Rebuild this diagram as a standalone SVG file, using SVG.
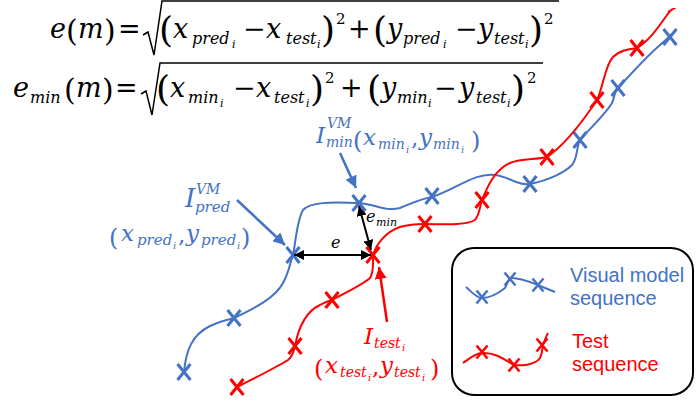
<svg xmlns="http://www.w3.org/2000/svg" width="696" height="403" viewBox="0 0 696 403">
<style>
.f{font-family:"DejaVu Serif",serif;font-style:italic;font-size:27px;fill:#000}
.u{font-style:normal}
.sb{font-size:16px}
.ss{font-size:11px}
.sp{font-size:15px;font-style:normal}
.pa{font-size:36px;font-style:normal}
.pm{font-size:30px;font-style:normal}
.lf{font-family:"DejaVu Serif",serif;font-style:italic;font-size:23px}
.lb{font-size:14px}
.lb15{font-size:15px}
.lt{font-size:10px}
.lp{font-size:24px;font-style:normal}
.blue{fill:#4472C4}
.red{fill:#FF0000}
.leg{font-family:"Liberation Sans",Arial,sans-serif;font-size:20px}
.rad{fill:none;stroke:#000;stroke-width:1.5;stroke-linejoin:miter}
.cb{fill:none;stroke:#4472C4;stroke-width:2}
.cr{fill:none;stroke:#FF0000;stroke-width:2}
.xb{stroke:#4472C4;stroke-width:3;fill:none}
.xr{stroke:#FF0000;stroke-width:3;fill:none}
.xbs{stroke:#4472C4;stroke-width:2.5;fill:none}
.xrs{stroke:#FF0000;stroke-width:2.5;fill:none}
</style>
<defs>
<path id="xm" d="M-6.5,-8L6.5,8M6.5,-8L-6.5,8"/>
<path id="xs" d="M-5.5,-6.5L5.5,6.5M5.5,-6.5L-5.5,6.5"/>
<marker id="ak" viewBox="0 0 10 10" refX="10" refY="5" markerWidth="10" markerHeight="10" markerUnits="userSpaceOnUse" orient="auto-start-reverse"><path d="M0,0L10,5L0,10z" fill="#000"/></marker>
<marker id="abl" viewBox="0 0 10 10" refX="10" refY="5" markerWidth="12" markerHeight="12" markerUnits="userSpaceOnUse" orient="auto"><path d="M0,0L10,5L0,10z" fill="#4472C4"/></marker>
<marker id="ard" viewBox="0 0 10 10" refX="10" refY="5" markerWidth="12" markerHeight="12" markerUnits="userSpaceOnUse" orient="auto"><path d="M0,0L10,5L0,10z" fill="#FF0000"/></marker>
</defs>

<g id="formula-e">
<polyline class="rad" points="143,35 148,32 154,55 162,1 559,1"/>
<text class="f"><tspan x="50" y="38">e</tspan><tspan class="pm" x="66" y="41">(</tspan><tspan x="78" y="38">m</tspan><tspan class="pm" x="104" y="41">)</tspan><tspan class="u" x="118" y="38">=</tspan><tspan class="pa" x="159" y="42">(</tspan><tspan x="173" y="38">x</tspan><tspan class="sb" x="192" y="44">pred</tspan><tspan class="ss" x="232" y="48">i</tspan><tspan class="u" x="243" y="38">−</tspan><tspan x="266" y="38">x</tspan><tspan class="sb" x="286" y="44">test</tspan><tspan class="ss" x="317" y="48">i</tspan><tspan class="pa" x="321" y="42">)</tspan><tspan class="sp" x="336" y="24">2</tspan><tspan class="u" x="348" y="38">+</tspan><tspan class="pa" x="373" y="42">(</tspan><tspan x="387" y="38">y</tspan><tspan class="sb" x="403" y="44">pred</tspan><tspan class="ss" x="443" y="48">i</tspan><tspan class="u" x="455" y="38">−</tspan><tspan x="478" y="38">y</tspan><tspan class="sb" x="494" y="44">test</tspan><tspan class="ss" x="525" y="48">i</tspan><tspan class="pa" x="529" y="42">)</tspan><tspan class="sp" x="544" y="24">2</tspan></text>
</g>

<g id="formula-emin">
<polyline class="rad" points="141,94 146,91 152,115 160,63 543,63"/>
<text class="f"><tspan x="13" y="97">e</tspan><tspan class="sb" x="30" y="103">min</tspan><tspan class="pm" x="64" y="100">(</tspan><tspan x="76" y="97">m</tspan><tspan class="pm" x="102" y="100">)</tspan><tspan class="u" x="115" y="97">=</tspan><tspan class="pa" x="156" y="101">(</tspan><tspan x="170" y="97">x</tspan><tspan class="sb" x="188" y="103">min</tspan><tspan class="ss" x="220" y="107">i</tspan><tspan class="u" x="233" y="97">−</tspan><tspan x="256" y="97">x</tspan><tspan class="sb" x="274" y="103">test</tspan><tspan class="ss" x="306" y="107">i</tspan><tspan class="pa" x="310" y="101">)</tspan><tspan class="sp" x="325" y="83">2</tspan><tspan class="u" x="340" y="97">+</tspan><tspan class="pa" x="367" y="101">(</tspan><tspan x="381" y="97">y</tspan><tspan class="sb" x="397" y="103">min</tspan><tspan class="ss" x="428" y="107">i</tspan><tspan class="u" x="434" y="97">−</tspan><tspan x="459" y="97">y</tspan><tspan class="sb" x="476" y="103">test</tspan><tspan class="ss" x="507" y="107">i</tspan><tspan class="pa" x="511" y="101">)</tspan><tspan class="sp" x="527" y="83">2</tspan></text>
</g>

<g id="blue-sequence">
<path class="cb" d="M184,372 C186,350 192,335 210,326 C222,320 228,320 234,318 C255,308 275,298 283,283 C290,270 290,262 293,255 C296,240 297,220 303,210 C310,202 330,202 358,203 C375,204 385,212 400,208 C410,204 420,199 432,197 C455,190 475,172 495,175 C510,177 518,186 530,184 C550,180 565,172 572,165 C578,158 576,148 580,140 C590,128 605,115 612,103 C615,96 614,92 618,88 C630,75 645,58 660,45 C666,40 668,38 672,34"/>
<use href="#xm" class="xb" x="184" y="372"/>
<use href="#xm" class="xb" x="234" y="318"/>
<use href="#xm" class="xb" x="293" y="255"/>
<use href="#xm" class="xb" x="359" y="203"/>
<use href="#xm" class="xb" x="432" y="196"/>
<use href="#xm" class="xb" x="530" y="184"/>
<use href="#xm" class="xb" x="580" y="140"/>
<use href="#xm" class="xb" x="618" y="88"/>
<use href="#xm" class="xb" x="670" y="37"/>
</g>

<g id="red-sequence">
<path class="cr" d="M237,387 C255,378 275,368 288,360 C293,356 294,350 295,346 C298,330 305,312 320,305 C325,302 328,301 332,300 C345,293 362,285 370,278 C374,272 373,262 373,255 C376,245 385,232 400,227 C410,224 418,224 425,224 C440,224 465,226 475,220 C480,214 480,205 482,200 C488,185 495,170 510,163 C522,158 535,160 547,157 C565,145 585,118 597,100 C603,88 605,65 613,57 C620,50 630,49 637,48 C650,40 660,25 667,15 C670,11 672,9 673,9 L668,12"/>
<use href="#xm" class="xr" x="237" y="387"/>
<use href="#xm" class="xr" x="295" y="346"/>
<use href="#xm" class="xr" x="332" y="300"/>
<use href="#xm" class="xr" x="373" y="255"/>
<use href="#xm" class="xr" x="425" y="224"/>
<use href="#xm" class="xr" x="482" y="200"/>
<use href="#xm" class="xr" x="547" y="157"/>
<use href="#xm" class="xr" x="597" y="100"/>
<use href="#xm" class="xr" x="637" y="48"/>
</g>

<g id="label-pred">
<text class="lf blue"><tspan x="185" y="207" style="font-size:26px">I</tspan><tspan class="lb" x="196" y="194">VM</tspan><tspan class="lb15" x="195" y="212">pred</tspan></text>
<text class="lf blue"><tspan class="lp" x="109" y="246">(</tspan><tspan x="121" y="241">x</tspan><tspan class="lb15" x="137" y="245">pred</tspan><tspan class="lt" x="173" y="249">i</tspan><tspan class="u" x="178" y="243">,</tspan><tspan x="186" y="241">y</tspan><tspan class="lb15" x="201" y="245">pred</tspan><tspan class="lt" x="237" y="249">i</tspan><tspan class="lp" x="241" y="246">)</tspan></text>
</g>

<g id="label-min">
<text class="lf blue"><tspan x="316" y="143">I</tspan><tspan class="lb" x="327" y="128">VM</tspan><tspan class="lb" x="326" y="147">min</tspan><tspan class="lp" x="353" y="149">(</tspan><tspan x="363" y="145">x</tspan><tspan class="lb" x="378" y="149">min</tspan><tspan class="lt" x="406" y="153">i</tspan><tspan class="u" x="411" y="146">,</tspan><tspan x="419" y="145">y</tspan><tspan class="lb" x="433" y="149">min</tspan><tspan class="lt" x="461" y="153">i</tspan><tspan class="lp" x="471" y="149">)</tspan></text>
</g>

<g id="label-test">
<text class="lf red"><tspan x="364" y="344">I</tspan><tspan class="lb" x="374" y="348">test</tspan><tspan class="lt" x="402" y="351">i</tspan></text>
<text class="lf red"><tspan class="lp" x="314" y="377">(</tspan><tspan x="325" y="373">x</tspan><tspan class="lb" x="340" y="377">test</tspan><tspan class="lt" x="368" y="381">i</tspan><tspan class="u" x="372" y="375">,</tspan><tspan x="380" y="373">y</tspan><tspan class="lb" x="394" y="377">test</tspan><tspan class="lt" x="422" y="381">i</tspan><tspan class="lp" x="430" y="377">)</tspan></text>
</g>

<g id="label-e">
<text class="f" style="font-size:16px" x="331" y="248">e</text>
</g>
<g id="label-emin">
<text class="f" style="font-size:16px"><tspan x="366" y="222">e</tspan><tspan x="376" y="226" style="font-size:11px">min</tspan></text>
</g>

<g id="connectors">
<line x1="294" y1="255" x2="371" y2="255" stroke="#000" stroke-width="2" marker-start="url(#ak)" marker-end="url(#ak)"/>
<line x1="359" y1="206" x2="371" y2="250" stroke="#000" stroke-width="2" marker-start="url(#ak)" marker-end="url(#ak)"/>
<line x1="237" y1="200" x2="285" y2="245" stroke="#4472C4" stroke-width="2.5" marker-end="url(#abl)"/>
<line x1="340" y1="153" x2="356" y2="188" stroke="#4472C4" stroke-width="2.5" marker-end="url(#abl)"/>
<line x1="387" y1="322" x2="379" y2="267" stroke="#FF0000" stroke-width="2.5" marker-end="url(#ard)"/>
</g>

<g id="legend">
<rect x="452" y="248" width="241" height="147" rx="22" ry="22" fill="none" stroke="#000" stroke-width="2"/>
<path class="cb" d="M466,287 C472,292 476,298 482,298 C492,298 500,292 505,288 C508,283 508,278 512,278 C520,278 530,282 538,285 C545,288 550,290 555,292"/>
<use href="#xs" class="xbs" x="482" y="297"/>
<use href="#xs" class="xbs" x="510" y="279"/>
<use href="#xs" class="xbs" x="538" y="285"/>
<text class="leg blue" x="570" y="282">Visual model</text>
<text class="leg blue" x="570" y="305">sequence</text>
<path class="cr" d="M463,363 C470,358 476,353 482,353 C495,352 505,360 514,365 C522,366 535,365 540,358 C543,352 542,348 543,345 C545,340 546,336 548,333"/>
<use href="#xs" class="xrs" x="482" y="352"/>
<use href="#xs" class="xrs" x="514" y="365"/>
<use href="#xs" class="xrs" x="542" y="345"/>
<text class="leg red" x="572" y="348">Test</text>
<text class="leg red" x="572" y="371">sequence</text>
</g>
</svg>
